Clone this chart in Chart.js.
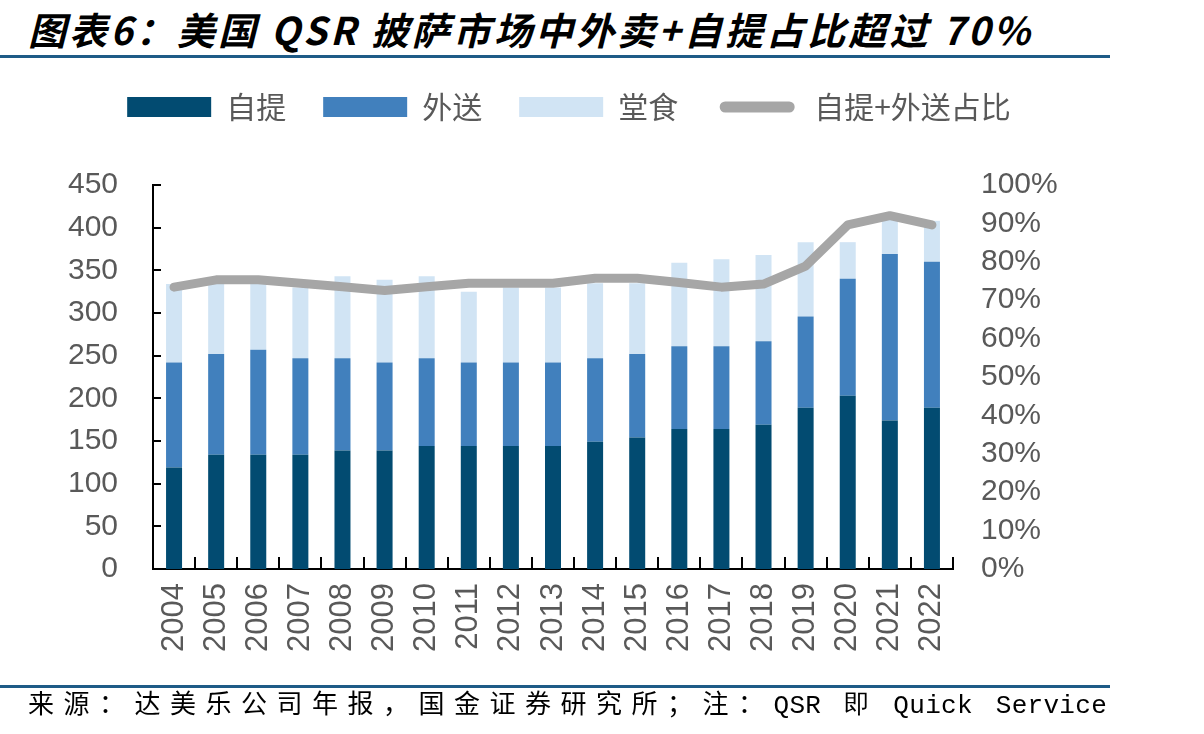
<!DOCTYPE html>
<html>
<head>
<meta charset="utf-8">
<script src="https://cdn.jsdelivr.net/npm/chart.js@4/dist/chart.umd.min.js"></script>
<style>
  html, body { margin: 0; padding: 0; background: #ffffff; }
  body { width: 1204px; height: 734px; position: relative; overflow: hidden; }
  #c { position: absolute; left: 0; top: 0; }
  .title { position: absolute; left: 28px; top: 3px; font-family: "Noto Sans CJK SC", sans-serif; font-weight: 700; font-style: italic; font-size: 38px; letter-spacing: 3.1px; color: #000; white-space: nowrap; line-height: 52px; }
  .rule { position: absolute; left: 0; width: 1110px; height: 3px; background: #1E5B87; }
  .foot { position: absolute; left: 28px; top: 683px; font-size: 26px; color: #000; white-space: nowrap; line-height: 38px; }
  .foot .cn { font-family: "Noto Sans CJK SC", sans-serif; letter-spacing: 9.5px; }
  .foot .en { font-family: "Liberation Mono", "DejaVu Sans Mono", monospace; word-spacing: 7px; letter-spacing: 0.3px; }
</style>
</head>
<body>
<div class="title">图表6：美国 QSR 披萨市场中外卖+自提占比超过 70%</div>
<div class="rule" style="top:55px"></div>
<canvas id="c" width="1204" height="734"></canvas>
<div class="rule" style="top:685px"></div>
<div class="foot"><span class="cn">来源：达美乐公司年报，国金证券研究所；注：</span><span class="en">QSR 即 Quick Service</span></div>
<script>
// ---- data ----
const years = ['2004','2005','2006','2007','2008','2009','2010','2011','2012','2013','2014','2015','2016','2017','2018','2019','2020','2021','2022'];
const pickup   = [119,134,134,134,139,139,144,144,144,144,149,154,164,164,169,189,203,174,189];
const delivery = [123,118,123,113,108,103,103, 98, 98, 98, 98, 98, 97, 97, 98,107,137,195,171];
const dineIn   = [ 92, 85, 84, 83, 96, 97, 96, 83, 88, 88, 88, 83, 98,102,101, 87, 43, 40, 48];
const sharePct = [73.4,75.3,75.3,74.4,73.5,72.5,73.5,74.4,74.4,74.4,75.7,75.7,74.6,73.4,74.2,78.9,89.6,92.0,89.6];
const leftTicks  = { min: 0, max: 450, step: 50 };
const rightTicks = { min: 0, max: 100, step: 10 };

const GRAY_TXT = '#595959';
const BASE_FONT = '"Liberation Sans", Arial, sans-serif';

const legendExtra = {
  id: 'legendExtra',
  beforeLayout(chart) {
    const lg = chart.legend;
    if (lg && !lg._extraPatched) {
      const f = lg.fit;
      lg.fit = function () { f.call(this); this.height += 53; };
      lg._extraPatched = true;
    }
  }
};

const innerTicks = {
  id: 'innerTicks',
  afterDatasetsDraw(chart) {
    const { ctx, chartArea: a, scales: { x, y } } = chart;
    ctx.save();
    ctx.strokeStyle = '#000';
    ctx.lineWidth = 2;
    ctx.beginPath();
    y.ticks.forEach((t, i) => {
      const py = Math.round(y.getPixelForTick(i));
      ctx.moveTo(a.left, py); ctx.lineTo(a.left + 8, py);
    });
    for (let i = 0; i <= x.ticks.length; i++) {
      const px = Math.round(x.getPixelForValue(i - 0.5));
      ctx.moveTo(px, a.bottom); ctx.lineTo(px, a.bottom - 12);
    }
    ctx.stroke();
    ctx.restore();
  }
};

Chart.defaults.font.family = BASE_FONT;
Chart.defaults.color = GRAY_TXT;

new Chart(document.getElementById('c'), {
  data: {
    labels: years,
    datasets: [
      { type: 'bar', label: '自提', data: pickup, backgroundColor: '#024B71', borderWidth: 0, yAxisID: 'y', order: 1, barPercentage: 0.38, categoryPercentage: 1 },
      { type: 'bar', label: '外送', data: delivery, backgroundColor: '#4180BD', borderWidth: 0, yAxisID: 'y', order: 1, barPercentage: 0.38, categoryPercentage: 1 },
      { type: 'bar', label: '堂食', data: dineIn, backgroundColor: '#D1E4F4', borderWidth: 0, yAxisID: 'y', order: 1, barPercentage: 0.38, categoryPercentage: 1 },
      { type: 'line', label: '自提+外送占比', data: sharePct, borderColor: '#A6A6A6', backgroundColor: '#A6A6A6', borderWidth: 9, pointRadius: 0, tension: 0, borderJoinStyle: 'round', borderCapStyle: 'round', yAxisID: 'y1', order: 0 }
    ]
  },
  options: {
    responsive: false,
    animation: false,
    layout: { padding: { top: 55, right: 66, left: 0, bottom: 0 } },
    plugins: {
      tooltip: { enabled: false },
      legend: {
        position: 'top',
        align: 'center',
        labels: {
          boxWidth: 84,
          boxHeight: 20,
          padding: 37,
          color: GRAY_TXT,
          font: { family: '"Noto Sans CJK SC", sans-serif', size: 30 },
          sort: (a, b) => a.datasetIndex - b.datasetIndex,
          generateLabels(chart) {
            const items = Chart.defaults.plugins.legend.labels.generateLabels(chart);
            items.forEach(it => {
              if (it.text === '自提+外送占比') {
                it.fillStyle = '#A6A6A6';
                it.strokeStyle = '#ffffff';
                it.lineWidth = 9;
                it.borderRadius = 10;
                it.lineCap = 'butt';
                it.lineJoin = 'miter';
              } else {
                it.lineWidth = 0;
              }
            });
            return items;
          }
        }
      }
    },
    scales: {
      x: {
        stacked: true,
        offset: true,
        grid: { display: false, drawTicks: false },
        border: { display: true, color: '#000', width: 2 },
        ticks: { maxRotation: 90, minRotation: 90, autoSkip: false, padding: 14, color: GRAY_TXT, font: { size: 31 } },
        afterFit(s) { s.height = 165; }
      },
      y: {
        position: 'left',
        stacked: true,
        min: leftTicks.min, max: leftTicks.max,
        grid: { display: false, drawTicks: false },
        border: { display: true, color: '#000', width: 2 },
        ticks: { stepSize: leftTicks.step, autoSkip: false, padding: 35, color: GRAY_TXT, font: { size: 30 } },
        afterFit(s) { s.width = 153; }
      },
      y1: {
        position: 'right',
        min: rightTicks.min, max: rightTicks.max,
        grid: { display: false, drawTicks: false },
        border: { display: false },
        ticks: { stepSize: rightTicks.step, autoSkip: false, padding: 28, color: GRAY_TXT, font: { size: 30 }, callback: v => v + '%' },
        afterFit(s) { s.width = 1204 - 66 - 953; }
      }
    }
  },
  plugins: [legendExtra, innerTicks]
});
</script>
</body>
</html>
